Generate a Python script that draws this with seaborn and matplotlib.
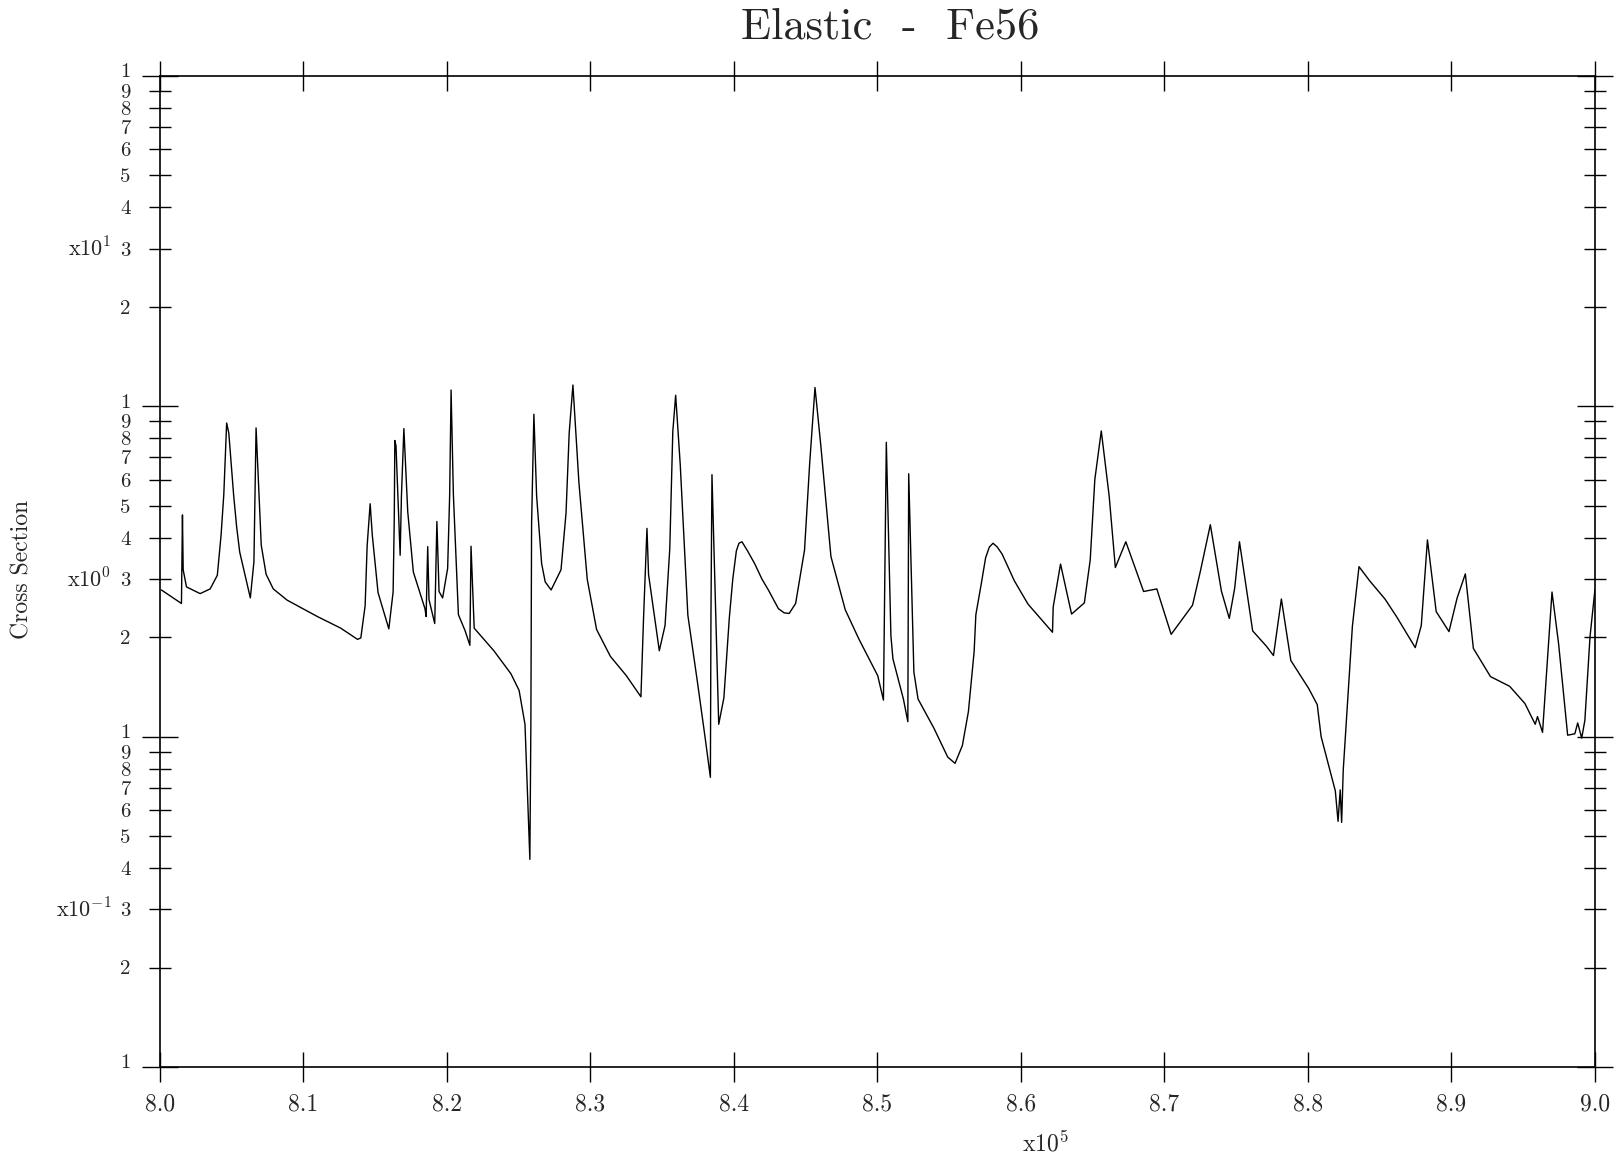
import numpy as np
import pandas as pd
import seaborn as sns
import matplotlib
matplotlib.use('Agg')
import matplotlib.pyplot as plt
import matplotlib.transforms as mtransforms
from matplotlib.ticker import FixedLocator, FixedFormatter

# energy in units of 1e5 eV, cross section
energy = [8.001, 8.0133, 8.0150, 8.0157, 8.0162, 8.0185, 8.028, 8.035, 8.040, 8.0426,
          8.0445, 8.0465, 8.048, 8.0514, 8.0535, 8.0556, 8.063, 8.0655, 8.067, 8.0706,
          8.074, 8.079, 8.0886,
          8.1097, 8.126, 8.1377, 8.140, 8.143, 8.1444, 8.1465, 8.148, 8.152, 8.1595,
          8.1625, 8.1633, 8.1637, 8.1645, 8.1674, 8.1683, 8.170, 8.1727, 8.1766, 8.1847,
          8.1855, 8.1866, 8.1875, 8.1915, 8.193, 8.1945, 8.197, 8.2005, 8.2019, 8.2029,
          8.2045, 8.208, 8.2127, 8.216, 8.2168, 8.219, 8.2327, 8.2446, 8.2503, 8.2544,
          8.2578, 8.2585, 8.259, 8.2606, 8.2625, 8.266, 8.2685, 8.2726, 8.2795, 8.283,
          8.2852, 8.2878, 8.292, 8.2978, 8.3043, 8.3139, 8.325, 8.3352, 8.337, 8.3394,
          8.3405, 8.348, 8.352, 8.3553, 8.3574, 8.3594, 8.3626, 8.3679, 8.3745, 8.3797,
          8.3836, 8.384, 8.3847, 8.3894, 8.393, 8.3968, 8.3992, 8.4017, 8.4035, 8.4056,
          8.4095, 8.4146, 8.4195, 8.4242,
          8.431, 8.435, 8.4385, 8.443, 8.4492, 8.4528, 8.4565, 8.4606, 8.4676, 8.4776, 8.4872,
          8.4921, 8.5002, 8.5042, 8.5062, 8.5094, 8.5108, 8.5181, 8.5212, 8.5218, 8.5254,
          8.5283, 8.5394, 8.549, 8.5541, 8.5592, 8.5634, 8.5674, 8.5686, 8.5723, 8.5754,
          8.578, 8.5806, 8.5835, 8.5869, 8.5953, 8.6049, 8.622, 8.6225, 8.6276, 8.6353, 8.6442, 8.6483,
          8.6515, 8.656, 8.6615, 8.6658, 8.6731, 8.6855, 8.6947, 8.7047, 8.7196, 8.725,
          8.732, 8.7397, 8.7452, 8.749, 8.7523, 8.7615, 8.771, 8.776, 8.7815, 8.7881,
          8.8005, 8.8065, 8.8092, 8.8191, 8.821, 8.8225, 8.8235, 8.8246, 8.8283, 8.831,
          8.8356, 8.8431, 8.8537, 8.862, 8.8748, 8.879, 8.8833, 8.8894, 8.8983, 8.904,
          8.9097, 8.9153, 8.9272, 8.9406, 8.9512, 8.9584, 8.960, 8.9635, 8.9701, 8.9747,
          8.981, 8.986, 8.988, 8.9908, 8.993, 8.9966, 9.0]
xsec = [2.78, 2.56, 2.53, 4.69, 3.2, 2.84, 2.71, 2.8, 3.08, 4.07,
        5.4, 8.9, 8.3, 5.36, 4.3, 3.62, 2.63, 3.38, 8.6, 3.8,
        3.1, 2.8, 2.59,
        2.31, 2.13, 1.97, 1.99, 2.49, 3.78, 5.07, 4.07, 2.73, 2.12,
        2.74, 4.56, 7.88, 7.6, 3.54, 5.36, 8.56, 4.79, 3.15, 2.44,
        2.31, 3.76, 2.6, 2.2, 4.48, 2.75, 2.63, 3.23, 5.37, 11.2,
        5.4, 2.34, 2.09, 1.89, 3.77, 2.13, 1.82, 1.55, 1.38, 1.09,
        0.425, 1.1, 4.41, 9.46, 5.36, 3.34, 2.94, 2.78, 3.2, 4.75,
        8.3, 11.6, 5.86, 2.99, 2.11, 1.75, 1.53, 1.32, 2.27, 4.27,
        3.1, 1.82, 2.17, 3.71, 8.38, 10.8, 6.65, 2.33, 1.47, 1.01,
        0.753, 2.34, 6.21, 1.09, 1.31, 2.29, 3.0, 3.65, 3.85, 3.89,
        3.65, 3.33, 3.0, 2.77,
        2.44, 2.37, 2.36, 2.53, 3.67, 6.72, 11.4, 7.57, 3.51, 2.42, 1.97,
        1.79, 1.53, 1.29, 7.78, 2.02, 1.72, 1.3, 1.11, 6.25, 1.57,
        1.3, 1.06, 0.867, 0.83, 0.94, 1.19, 1.81, 2.34, 2.89, 3.48,
        3.75, 3.85, 3.75, 3.57, 2.97, 2.52, 2.07, 2.47, 3.33, 2.35, 2.54, 3.43,
        6.0, 8.42, 5.35, 3.25, 3.89, 2.75, 2.8, 2.04, 2.5, 3.16,
        4.38, 2.76, 2.28, 2.82, 3.89, 2.09, 1.88, 1.76, 2.61, 1.7,
        1.4, 1.25, 1.0, 0.685, 0.554, 0.69, 0.55, 0.79, 1.42, 2.16,
        3.27, 2.96, 2.61, 2.3, 1.86, 2.17, 3.94, 2.39, 2.08, 2.63,
        3.11, 1.85, 1.52, 1.42, 1.26, 1.09, 1.15, 1.03, 2.74, 1.91,
        1.01, 1.02, 1.1, 0.99, 1.12, 2.01, 2.78]

x_ticks = [8.0, 8.1, 8.2, 8.3, 8.4, 8.5, 8.6, 8.7, 8.8, 8.9, 9.0]
x_ticklabels = ['8.0', '8.1', '8.2', '8.3', '8.4', '8.5', '8.6', '8.7', '8.8', '8.9', '9.0']
decades = [0.1, 1.0, 10.0, 100.0]
decade_labels = [r'x10$^{-1}$', r'x10$^{0}$', r'x10$^{1}$']
mantissas = [2, 3, 4, 5, 6, 7, 8, 9]

sns.set_theme(style='ticks')
plt.rcParams['font.family'] = ['cmr10', 'DejaVu Serif']
plt.rcParams['mathtext.fontset'] = 'cm'
plt.rcParams['axes.unicode_minus'] = False
plt.rcParams['axes.formatter.use_mathtext'] = True

df = pd.DataFrame({'Energy': energy, 'Cross Section': xsec})

fig = plt.figure(figsize=(16.22, 11.62), dpi=100)
ax = fig.add_axes([0.0986, 0.0818, 0.8847, 0.8528])
sns.lineplot(data=df, x='Energy', y='Cross Section', ax=ax, color='black',
             linewidth=1.0, estimator=None, sort=False)

ax.set_yscale('log')
ax.set_xlim(8.0, 9.0)
ax.set_ylim(0.1, 100)
ax.set_xlabel('')
ax.set_ylabel('')

ax.xaxis.set_major_locator(FixedLocator(x_ticks))
ax.xaxis.set_major_formatter(FixedFormatter(x_ticklabels))
ax.xaxis.set_minor_locator(FixedLocator([]))

minor_pos = [m * d for d in decades[:-1] for m in mantissas]
minor_lab = [str(m) for d in decades[:-1] for m in mantissas]
ax.yaxis.set_major_locator(FixedLocator(decades))
ax.yaxis.set_major_formatter(FixedFormatter(['1'] * len(decades)))
ax.yaxis.set_minor_locator(FixedLocator(minor_pos))
ax.yaxis.set_minor_formatter(FixedFormatter(minor_lab))

ax.tick_params(axis='both', which='both', direction='inout', top=True, right=True,
               color='black', width=1.0)
ax.tick_params(axis='x', which='major', length=22, labelsize=17, pad=8)
ax.tick_params(axis='y', which='major', length=26, labelsize=15, pad=8)
ax.tick_params(axis='y', which='minor', length=16, labelsize=15, pad=13)

# the decade "1" sits a little above its tick, stacked over the "9"
shift = mtransforms.ScaledTranslation(0, 4 / 72, fig.dpi_scale_trans)
for lab in ax.yaxis.get_majorticklabels():
    lab.set_transform(lab.get_transform() + shift)

for sp in ax.spines.values():
    sp.set_color('black')
    sp.set_linewidth(1.2)

# decade multipliers next to the "3" label of each decade
trans = mtransforms.blended_transform_factory(ax.transAxes, ax.transData)
for d, lab in zip(decades[:-1], decade_labels):
    ax.text(-0.034, 3 * d, lab, transform=trans, ha='right', va='center', fontsize=16)

ax.text(8.617, -0.077, r'x10$^{5}$', transform=mtransforms.blended_transform_factory(ax.transData, ax.transAxes),
        ha='center', va='center', fontsize=17)
fig.text(0.014, 0.51, 'Cross Section', rotation=90, ha='center', va='center', fontsize=17)
fig.text(0.549, 0.976, 'Elastic  -  Fe56', ha='center', va='center', fontsize=32)

fig.savefig('out.png', dpi=100, facecolor='white')
